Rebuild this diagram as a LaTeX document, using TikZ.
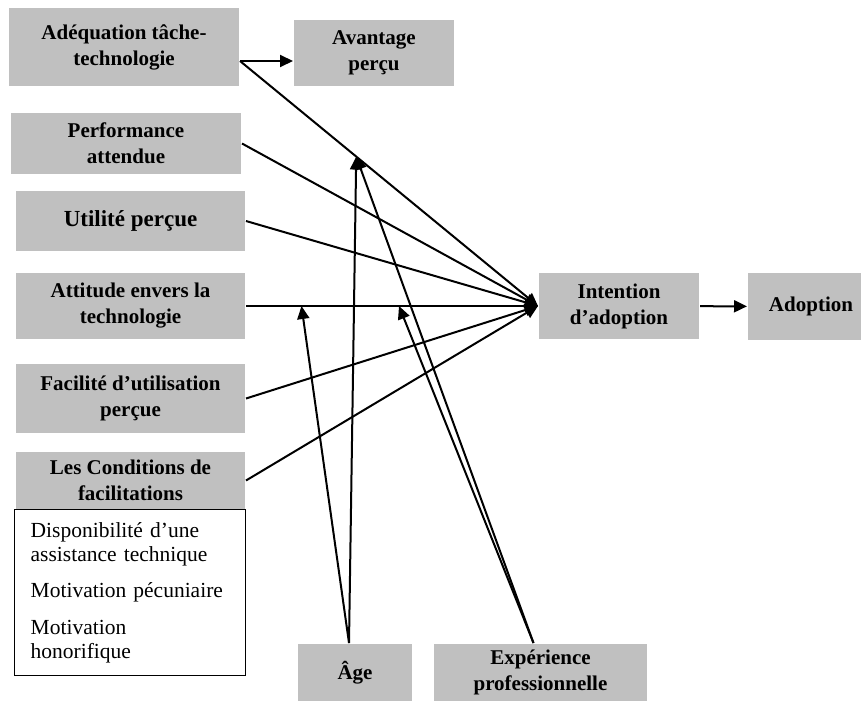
\documentclass[tikz,border=0pt]{standalone}
\usepackage{fontspec}
\setmainfont{Liberation Serif}
\usetikzlibrary{arrows.meta}
\definecolor{boxgray}{RGB}{192,192,192}

\begin{document}
\begin{tikzpicture}[x=1pt, y=-1pt, line width=2pt,
	>={Triangle[length=13pt,width=12pt]},
	facteur/.style={fill=boxgray, anchor=north west, align=center, inner sep=2pt,
		font=\fontsize{21}{26}\selectfont\bfseries},
	liste/.style={draw, fill=white, line width=1.4pt, anchor=north west, align=left,
		text width=199pt, inner xsep=16pt, inner ysep=0pt,
		font=\fontsize{21.5}{24}\selectfont}]
	\useasboundingbox (0,0) rectangle (861,701);

	% Facteurs
	\node[facteur, minimum width=230pt, minimum height=78pt] (adeq) at (8,7) {Adéquation tâche-\\technologie};
	\node[facteur, minimum width=160pt, minimum height=66pt] (avant) at (293,19) {Avantage\\perçu};
	\node[facteur, minimum width=230pt, minimum height=61pt] (perf) at (10,112) {Performance\\attendue};
	\node[facteur, minimum width=229pt, minimum height=60pt, font=\fontsize{23}{27}\selectfont\bfseries] (util) at (15,190) {Utilité perçue};
	\node[facteur, minimum width=229pt, minimum height=66pt] (atti) at (15,272) {Attitude envers la\\technologie};
	\node[facteur, minimum width=229pt, minimum height=69pt] (faci) at (15,363) {Facilité d’utilisation\\perçue};
	\node[facteur, minimum width=229pt, minimum height=57pt] (cond) at (15,451) {Les Conditions de\\facilitations};
	\node[liste, minimum width=231pt, minimum height=166pt] (condlist) at (14,509)
		{Disponibilité d’une\\assistance technique\\[12pt]Motivation pécuniaire\\[13pt]Motivation\\honorifique};

	% Modérateurs
	\node[facteur, minimum width=114pt, minimum height=57pt] (age) at (297,643) {Âge};
	\node[facteur, minimum width=213pt, minimum height=57pt] (exper) at (433,643) {Expérience\\professionnelle};

	% Intention et adoption
	\node[facteur, minimum width=160pt, minimum height=66pt] (inten) at (538,272) {Intention\\d’adoption};
	\node[facteur, minimum width=126pt, minimum height=67pt] (adop) at (747,272) {Adoption};

	% Flèches
	\coordinate (adeqout) at ([yshift=-14pt]adeq.east);
	\draw[->] (adeqout) -- (adeqout -| avant.west);
	\draw[->] (adeqout) -- (inten.west);
	\foreach \src in {perf, util, atti, faci, cond}
		\draw[->] (\src.east) -- (inten.west);
	\draw[->] (inten) -- (adop);

	% Effets modérateurs
	\path (adeqout) -- (inten.west) coordinate[pos=0.39] (modtop);
	\path (atti.east) -- (inten.west) coordinate[pos=0.19] (modage) coordinate[pos=0.524] (modexp);
	\coordinate (agetop) at ([xshift=-6pt]age.north);
	\coordinate (exptop) at ([xshift=-7pt]exper.north);
	\draw[->] (agetop) -- (modtop);
	\draw[->] (agetop) -- (modage);
	\draw[->] (exptop) -- (modtop);
	\draw[->] (exptop) -- (modexp);
\end{tikzpicture}
\end{document}
